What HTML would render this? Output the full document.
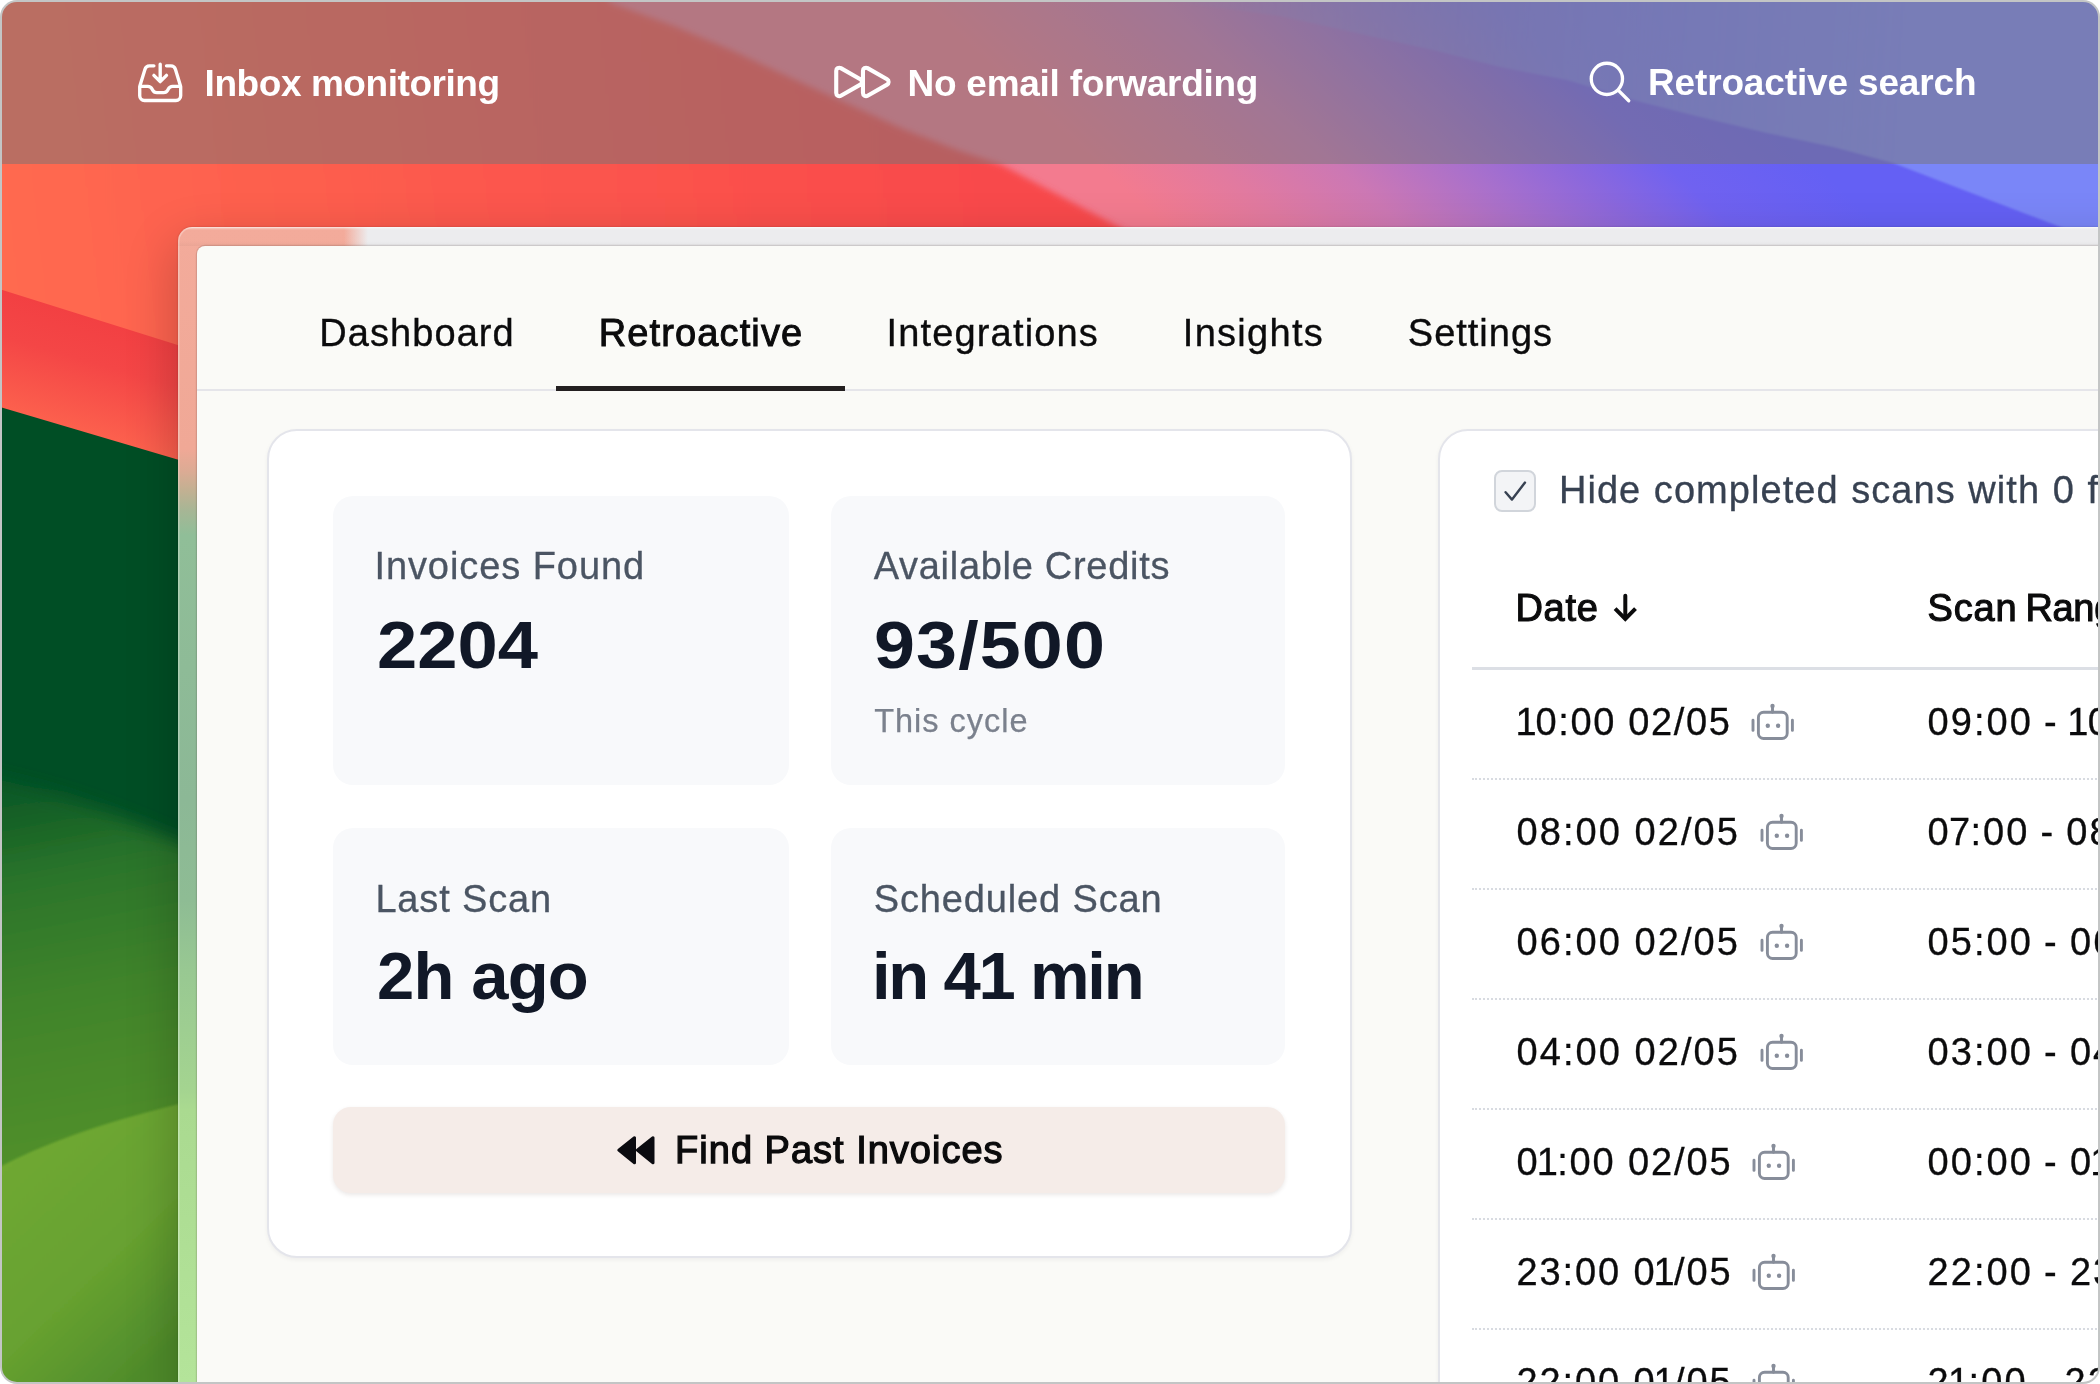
<!DOCTYPE html>
<html lang="en">
<head>
<meta charset="utf-8">
<title>Retroactive search</title>
<style>
*{box-sizing:border-box;margin:0;padding:0}
html,body{width:2100px;height:1384px;overflow:hidden;background:#fff}
body{font-family:"Liberation Sans",sans-serif;position:relative;color:#0b0b0c}
#shot{position:absolute;left:0;top:0;width:2100px;height:1384px;border-radius:17px;overflow:hidden;background:#c3c5c5}
#clip{position:absolute;left:2px;top:2px;width:2096px;height:1380px;border-radius:15px;overflow:hidden}
#stage{position:absolute;left:-2px;top:-2px;width:2100px;height:1384px;will-change:transform}
#bg{position:absolute;left:0;top:0;width:2100px;height:1384px;display:block}
/* banner */
#banner{position:absolute;left:0;top:0;width:2100px;height:163.6px;background:rgba(118,116,118,.5)}
.bitem{position:absolute;top:0;height:163px;color:#fff}
.bitem svg{position:absolute;overflow:visible}
.btxt{position:absolute;white-space:nowrap;line-height:1;font-weight:700;font-size:37px;color:#fff}
/* window */
#win{position:absolute;left:178.3px;top:226.9px;width:2000px;height:1300px;border-radius:14px 0 0 0;box-shadow:0 18px 50px 4px rgba(0,0,0,.20),0 0 2px rgba(0,0,0,.22)}
#winframe{position:absolute;inset:0;border-radius:14px 0 0 0;overflow:hidden;box-shadow:inset 1.5px 1px 0 rgba(255,255,255,.28);
 background:
  linear-gradient(180deg,rgba(255,255,255,.55) 0,rgba(255,255,255,.0) 3px,rgba(0,0,0,0) 14px,rgba(0,0,0,.035) 19.3px) 0 0/100% 19.3px no-repeat,
  linear-gradient(90deg,rgba(236,236,238,0) 0,rgba(236,236,238,0) 166px,#ececee 190px) 0 0/100% 19.3px no-repeat,
  linear-gradient(180deg,#f3ab9b 0,#f0a896 222px,#dcab94 244px,#c4b092 262px,#a6b695 284px,#90be98 308px,#8cb896 573px,#8ebc94 673px,#98c892 743px,#a4d490 863px,#aada90 883px,#b4e49a 1157px) 0 0/100% 100% no-repeat}
#app{position:absolute;left:18.5px;top:19.3px;width:1990px;height:1300px;border-radius:8px 0 0 0;background:#fafaf7;overflow:hidden;box-shadow:0 0 0 1.2px rgba(60,40,40,.15)}

/* tabs */
#tabs{position:absolute;left:0;top:0;width:1990px;height:145px;border-bottom:2.3px solid #e5e5ea}
.tab{position:absolute;top:0;height:145px;font-size:38px;color:#0b0b0c}
.tab span{position:absolute;white-space:nowrap;line-height:1;-webkit-text-stroke:.35px #0b0b0c}
.tab.on span{-webkit-text-stroke:.95px #0b0b0c}
.tab.on::after{content:"";position:absolute;left:0;right:0;bottom:0;height:5.3px;background:#231f20}
/* cards */
.card{position:absolute;background:#fff;border:2.3px solid #e4e5eb;border-radius:30px;box-shadow:0 2px 4px rgba(20,20,40,.05)}
.tile{position:absolute;background:#f8f9fb;border-radius:20px}
.lbl{position:absolute;white-space:nowrap;line-height:1;font-size:38px;color:#4b5563;-webkit-text-stroke:.3px #4b5563}
.val{position:absolute;white-space:nowrap;line-height:1;font-size:67px;transform-origin:0 50%;font-weight:700;color:#111827}
.sub{position:absolute;white-space:nowrap;line-height:1;font-size:32.5px;color:#7b818d;-webkit-text-stroke:.25px #7b818d}
#findbtn{position:absolute;background:#f5ece8;border-radius:18px;box-shadow:0 2px 4px rgba(60,30,20,.10)}
#findbtn span{position:absolute;white-space:nowrap;line-height:1;font-size:38px;color:#0b0b0c;-webkit-text-stroke:1.25px #0b0b0c}
#findbtn svg{position:absolute}
/* table card */
#chk{position:absolute;border:2px solid #d1d5db;background:#f3f4f6;border-radius:8px}
#chk svg{position:absolute;left:0;top:0}
#hide{position:absolute;white-space:nowrap;line-height:1;font-size:38px;color:#374151;-webkit-text-stroke:.3px #374151}
.th{position:absolute;white-space:nowrap;line-height:1;font-size:38px;color:#0b0b0c;-webkit-text-stroke:1.1px #0b0b0c}
#thline{position:absolute;height:2.3px;background:#dcdfe5}
.row{position:absolute;left:32.4px;width:900px;height:110px;border-bottom:2.3px dotted #d8dbe1}
.row span{position:absolute;top:33.4px;white-space:nowrap;line-height:1;font-size:38px;color:#0b0b0c;letter-spacing:2.06px;-webkit-text-stroke:.3px #0b0b0c}
.row .d{left:44.6px}
.row .g{left:455.6px;word-spacing:-1.5px}
.row .bot{position:absolute;left:100%;top:-1.35px;margin-left:18.6px}
i.k{font-style:normal;margin:0 -2.6px 0 -2.8px}
i.k7{font-style:normal;margin:0 -1.8px}
i.k0{font-style:normal;margin:0 -3px 0 -1px}
</style>
</head>
<body>
<div id="shot"><div id="clip"><div id="stage">

<!-- BACKGROUND -->
<svg id="bg" viewBox="0 0 2100 1384" width="2100" height="1384">
  <defs>
    <linearGradient id="gSky" gradientUnits="userSpaceOnUse" x1="1130" y1="195" x2="1463" y2="-163">
      <stop offset="0" stop-color="#f37b8f"/>
      <stop offset=".167" stop-color="#e17aa0"/>
      <stop offset=".333" stop-color="#cc78b4"/>
      <stop offset=".514" stop-color="#a870cc"/>
      <stop offset=".653" stop-color="#8c68dc"/>
      <stop offset=".792" stop-color="#7062f0"/>
      <stop offset="1" stop-color="#6460f4"/>
    </linearGradient>
    <linearGradient id="gWedge" gradientUnits="userSpaceOnUse" x1="1150" y1="60" x2="1900" y2="110">
      <stop offset="0" stop-color="#8e8ee0" stop-opacity="0"/>
      <stop offset=".2" stop-color="#8c8ce2" stop-opacity=".3"/>
      <stop offset=".42" stop-color="#8488ea" stop-opacity=".5"/>
      <stop offset=".6" stop-color="#7c86f6" stop-opacity=".7"/>
      <stop offset="1" stop-color="#7a86f8" stop-opacity="1"/>
    </linearGradient>
    <linearGradient id="gRed" gradientUnits="userSpaceOnUse" x1="0" y1="240" x2="1050" y2="120">
      <stop offset="0" stop-color="#ff6a50"/>
      <stop offset=".5" stop-color="#fc564d"/>
      <stop offset="1" stop-color="#f8484c"/>
    </linearGradient>
    <linearGradient id="gBand" gradientUnits="userSpaceOnUse" x1="60" y1="300" x2="20" y2="440">
      <stop offset="0" stop-color="#f23f42"/>
      <stop offset=".35" stop-color="#f44646"/>
      <stop offset="1" stop-color="#ff6a50"/>
    </linearGradient>
    <linearGradient id="gMid" gradientUnits="userSpaceOnUse" x1="40" y1="790" x2="110" y2="1160">
      <stop offset="0" stop-color="#0e5a27"/>
      <stop offset=".22" stop-color="#2a7429"/>
      <stop offset=".55" stop-color="#40842a"/>
      <stop offset="1" stop-color="#52902c"/>
    </linearGradient>
    <linearGradient id="gLow" gradientUnits="userSpaceOnUse" x1="20" y1="1150" x2="190" y2="1330">
      <stop offset="0" stop-color="#6fa832"/>
      <stop offset=".55" stop-color="#68a230"/>
      <stop offset="1" stop-color="#4f8c2c"/>
    </linearGradient>
    <filter id="fblur8" x="-10%" y="-10%" width="120%" height="120%"><feGaussianBlur stdDeviation="9"/></filter>
    <filter id="fblur3" x="-10%" y="-10%" width="120%" height="120%"><feGaussianBlur stdDeviation="3"/></filter>
    <filter id="fblur2" x="-10%" y="-10%" width="120%" height="120%"><feGaussianBlur stdDeviation="1.2"/></filter>
  </defs>
  <!-- sky: pink to violet to blue -->
  <rect width="2100" height="1384" fill="url(#gSky)"/>
  <!-- lighter blue wedge top right -->
  <path d="M1130 -10 L1130 -4 L1280 16 L1433 50 L1500 67 L1567 80 L1633 100 L1700 117 L1767 133 L1833 147 L1893 163 L2050 223 L2120 250 L2120 -10 Z" fill="url(#gWedge)" filter="url(#fblur2)"/>
  <!-- red / orange mass -->
  <path d="M-20 -20 L590 -20 L611 3 L674 26 L731 50 L789 77 L846 103 L903 129 L960 151 L1000 164 L1117 226 L1180 262 L1300 1400 L-20 1400 Z" fill="url(#gRed)" filter="url(#fblur3)"/>
  <!-- red band on the left -->
  <path d="M-10 286 L200 352 L260 500 L-10 460 Z" fill="url(#gBand)"/>
  <!-- dark green -->
  <path d="M-10 404 L260 484 L260 1400 L-10 1400 Z" fill="#004e25"/>
  <!-- mid green -->
  <path d="M-40 772 C60 790 130 815 300 900 L300 1440 L-40 1440 Z" fill="url(#gMid)" filter="url(#fblur8)"/>
  <!-- light green -->
  <path d="M-10 1172 C50 1140 110 1118 260 1085 L260 1400 L-10 1400 Z" fill="url(#gLow)" filter="url(#fblur2)"/>
</svg>

<!-- BANNER -->
<div id="banner"></div>
<div class="bitem" style="left:0;width:700px">
  <svg style="left:135px;top:58.2px" width="50.4" height="50.4" viewBox="0 0 24 24" fill="none" stroke="#fff" stroke-width="1.6" stroke-linecap="round" stroke-linejoin="round"><path d="M9 3.75H6.912a2.25 2.25 0 0 0-2.15 1.588L2.35 13.177a2.25 2.25 0 0 0-.1.661V18a2.25 2.25 0 0 0 2.25 2.25h15A2.25 2.25 0 0 0 21.75 18v-4.162c0-.224-.034-.447-.1-.661L19.24 5.338a2.25 2.25 0 0 0-2.15-1.588H15M2.25 13.5h3.86a2.25 2.25 0 0 1 2.012 1.244l.256.512a2.25 2.25 0 0 0 2.013 1.244h3.218a2.25 2.25 0 0 0 2.013-1.244l.256-.512a2.25 2.25 0 0 1 2.013-1.244h3.859M12 3v8.250m0 0-3-3m3 3 3-3"/></svg>
  <span class="btxt" id="b1" style="left:204.6px;top:64.7px;letter-spacing:-0.44px">Inbox monitoring</span>
</div>
<div class="bitem" style="left:700px;width:700px">
  <svg style="left:127.6px;top:47px" width="65.8" height="65.8" viewBox="0 0 24 24" fill="none" stroke="#fff" stroke-width="1.5" stroke-linecap="round" stroke-linejoin="round"><path d="M3 8.689c0-.864.933-1.406 1.683-.977l7.108 4.061a1.125 1.125 0 0 1 0 1.954l-7.108 4.061A1.125 1.125 0 0 1 3 16.811V8.69ZM12.75 8.689c0-.864.933-1.406 1.683-.977l7.108 4.061a1.125 1.125 0 0 1 0 1.954l-7.108 4.061a1.125 1.125 0 0 1-1.683-.977V8.69Z"/></svg>
  <span class="btxt" id="b2" style="left:207.5px;top:64.7px;letter-spacing:-0.26px">No email forwarding</span>
</div>
<div class="bitem" style="left:1400px;width:700px">
  <svg style="left:185.4px;top:57.4px" width="50" height="50" viewBox="0 0 24 24" fill="none" stroke="#fff" stroke-width="1.6" stroke-linecap="round" stroke-linejoin="round"><path d="m21 21-5.197-5.197m0 0A7.500 7.500 0 1 0 5.196 5.196a7.500 7.500 0 0 0 10.607 10.607Z"/></svg>
  <span class="btxt" id="b3" style="left:248.0px;top:64.4px;letter-spacing:-0.15px">Retroactive search</span>
</div>

<!-- WINDOW -->
<div id="win">
  <div id="winframe"></div>
  <div id="app">
    <div id="tabs">
      <div class="tab" style="left:80.7px;width:278px"><span id="t1" style="left:41.7px;top:67.6px;letter-spacing:1.08px">Dashboard</span></div>
      <div class="tab on" style="left:359px;width:289.7px"><span id="t2" style="left:43.0px;top:67.6px;letter-spacing:1.12px">Retroactive</span></div>
      <div class="tab" style="left:648.7px;width:296px"><span id="t3" style="left:41.0px;top:67.6px;letter-spacing:1.16px">Integrations</span></div>
      <div class="tab" style="left:944px;width:225px"><span id="t4" style="left:42.0px;top:67.6px;letter-spacing:1.29px">Insights</span></div>
      <div class="tab" style="left:1169px;width:230px"><span id="t5" style="left:42.0px;top:67.6px;letter-spacing:0.99px">Settings</span></div>
    </div>

    <!-- left card : abs (267.3,429.3)-(1351,1258) -->
    <div class="card" id="stats" style="left:70.3px;top:183.1px;width:1085px;height:829px">
      <div class="tile" style="left:64px;top:64.7px;width:456px;height:289.3px">
        <span class="lbl" id="l1" style="left:41.3px;top:51.4px;letter-spacing:0.93px">Invoices Found</span>
        <span class="val" id="v1" style="left:44.0px;top:115.0px;transform:scaleX(1.08)">2204</span>
      </div>
      <div class="tile" style="left:562.4px;top:64.7px;width:453.3px;height:289.3px">
        <span class="lbl" id="l2" style="left:42.2px;top:51.4px;letter-spacing:0.71px">Available Credits</span>
        <span class="val" id="v2" style="left:42.3px;top:115.0px;transform:scaleX(1.10);letter-spacing:1px">93/500</span>
        <span class="sub" id="s2" style="left:42.7px;top:209.1px;letter-spacing:1px">This cycle</span>
      </div>
      <div class="tile" style="left:64px;top:397px;width:456px;height:236.7px">
        <span class="lbl" id="l3" style="left:42.3px;top:51.5px;letter-spacing:0.85px">Last Scan</span>
        <span class="val" id="v3" style="left:44.0px;top:113.8px;letter-spacing:-0.86px">2h ago</span>
      </div>
      <div class="tile" style="left:562.4px;top:397px;width:453.3px;height:236.7px">
        <span class="lbl" id="l4" style="left:42.3px;top:51.5px;letter-spacing:0.85px">Scheduled Scan</span>
        <span class="val" id="v4" style="left:40.4px;top:113.8px;letter-spacing:-2.2px">in 41 min</span>
      </div>
      <div id="findbtn" style="left:64px;top:675.4px;width:951.7px;height:86px">
        <svg style="left:280px;top:22px" width="46" height="42" viewBox="0 0 46 42" fill="#0b0b10" stroke="#0b0b10" stroke-width="3" stroke-linejoin="round"><path d="M5.8 21.2 21.5 8.8V33.8ZM24.3 21.2 40 8.8V33.8Z"/></svg>
        <span id="fb" style="left:342.0px;top:24.7px;letter-spacing:1px">Find Past Invoices</span>
      </div>
    </div>

    <!-- right card : abs left 1438.3, top 429.3 -->
    <div class="card" id="scans" style="left:1240.8px;top:183.1px;width:900px;height:1200px">
      <div id="chk" style="left:54.4px;top:38.6px;width:42px;height:42.4px"><svg width="38" height="38" viewBox="0 0 38 38" fill="none" stroke="#374151" stroke-width="2.4" stroke-linecap="round" stroke-linejoin="round"><path d="M9.6 20.2 L16 27.6 L29 10.6"/></svg></div>
      <span id="hide" style="left:119.3px;top:39.4px;letter-spacing:1.05px;word-spacing:1px">Hide completed scans with 0 found invoices</span>
      <span class="th" id="h1" style="left:75.8px;top:157.8px;letter-spacing:0.77px">Date</span>
      <svg id="harr" style="position:absolute;left:168px;top:160px" width="36" height="36" viewBox="0 0 36 36" fill="none" stroke="#0b0b0c" stroke-width="4"><path d="M17.3 4.7V27.2" stroke-linecap="round"/><path d="M7.1 17.7 17.3 27.9 27.5 17.7" stroke-linejoin="miter"/></svg>
      <span class="th" id="h2" style="left:488.0px;top:157.8px;letter-spacing:0.8px">Scan <span style="position:static;letter-spacing:-.3px;margin-left:-3.4px">Range</span></span>
      <div id="thline" style="left:32.4px;top:236px;width:900px"></div>
      <div class="row" style="top:238.65px">
        <span class="d" id="r0a" style="letter-spacing:1.66px"><i class="k0">1</i>0:00 02/05<svg class="bot" width="46" height="40" viewBox="0 0 46 40" fill="none" stroke="#878d9a" stroke-width="2.9" stroke-linecap="round" stroke-linejoin="round"><rect x="8.4" y="10.3" width="28.8" height="26.2" rx="5.2"/><path d="M22.5 4.5V10.3M3 18.3V28.4M42.4 18.3V28.4"/><circle cx="22.5" cy="4" r="2.2" fill="#878d9a" stroke="none"/><circle cx="17.8" cy="23.7" r="2.2" fill="#878d9a" stroke="none"/><circle cx="28.1" cy="23.7" r="2.2" fill="#878d9a" stroke="none"/></svg></span>
        <span class="g" id="r0b">09:00 - <i class="k">1</i>0:00</span>
      </div>
      <div class="row" style="top:348.65px">
        <span class="d" id="r1a">08:00 02/05<svg class="bot" width="46" height="40" viewBox="0 0 46 40" fill="none" stroke="#878d9a" stroke-width="2.9" stroke-linecap="round" stroke-linejoin="round"><rect x="8.4" y="10.3" width="28.8" height="26.2" rx="5.2"/><path d="M22.5 4.5V10.3M3 18.3V28.4M42.4 18.3V28.4"/><circle cx="22.5" cy="4" r="2.2" fill="#878d9a" stroke="none"/><circle cx="17.8" cy="23.7" r="2.2" fill="#878d9a" stroke="none"/><circle cx="28.1" cy="23.7" r="2.2" fill="#878d9a" stroke="none"/></svg></span>
        <span class="g" id="r1b">0<i class="k7">7</i>:00 - 08:00</span>
      </div>
      <div class="row" style="top:458.65px">
        <span class="d" id="r2a">06:00 02/05<svg class="bot" width="46" height="40" viewBox="0 0 46 40" fill="none" stroke="#878d9a" stroke-width="2.9" stroke-linecap="round" stroke-linejoin="round"><rect x="8.4" y="10.3" width="28.8" height="26.2" rx="5.2"/><path d="M22.5 4.5V10.3M3 18.3V28.4M42.4 18.3V28.4"/><circle cx="22.5" cy="4" r="2.2" fill="#878d9a" stroke="none"/><circle cx="17.8" cy="23.7" r="2.2" fill="#878d9a" stroke="none"/><circle cx="28.1" cy="23.7" r="2.2" fill="#878d9a" stroke="none"/></svg></span>
        <span class="g" id="r2b">05:00 - 06:00</span>
      </div>
      <div class="row" style="top:568.65px">
        <span class="d" id="r3a">04:00 02/05<svg class="bot" width="46" height="40" viewBox="0 0 46 40" fill="none" stroke="#878d9a" stroke-width="2.9" stroke-linecap="round" stroke-linejoin="round"><rect x="8.4" y="10.3" width="28.8" height="26.2" rx="5.2"/><path d="M22.5 4.5V10.3M3 18.3V28.4M42.4 18.3V28.4"/><circle cx="22.5" cy="4" r="2.2" fill="#878d9a" stroke="none"/><circle cx="17.8" cy="23.7" r="2.2" fill="#878d9a" stroke="none"/><circle cx="28.1" cy="23.7" r="2.2" fill="#878d9a" stroke="none"/></svg></span>
        <span class="g" id="r3b">03:00 - 04:00</span>
      </div>
      <div class="row" style="top:678.65px">
        <span class="d" id="r4a" style="letter-spacing:1.86px">0<i class="k">1</i>:00 02/05<svg class="bot" width="46" height="40" viewBox="0 0 46 40" fill="none" stroke="#878d9a" stroke-width="2.9" stroke-linecap="round" stroke-linejoin="round"><rect x="8.4" y="10.3" width="28.8" height="26.2" rx="5.2"/><path d="M22.5 4.5V10.3M3 18.3V28.4M42.4 18.3V28.4"/><circle cx="22.5" cy="4" r="2.2" fill="#878d9a" stroke="none"/><circle cx="17.8" cy="23.7" r="2.2" fill="#878d9a" stroke="none"/><circle cx="28.1" cy="23.7" r="2.2" fill="#878d9a" stroke="none"/></svg></span>
        <span class="g" id="r4b">00:00 - 0<i class="k">1</i>:00</span>
      </div>
      <div class="row" style="top:788.65px">
        <span class="d" id="r5a" style="letter-spacing:1.86px">23:00 0<i class="k">1</i>/05<svg class="bot" width="46" height="40" viewBox="0 0 46 40" fill="none" stroke="#878d9a" stroke-width="2.9" stroke-linecap="round" stroke-linejoin="round"><rect x="8.4" y="10.3" width="28.8" height="26.2" rx="5.2"/><path d="M22.5 4.5V10.3M3 18.3V28.4M42.4 18.3V28.4"/><circle cx="22.5" cy="4" r="2.2" fill="#878d9a" stroke="none"/><circle cx="17.8" cy="23.7" r="2.2" fill="#878d9a" stroke="none"/><circle cx="28.1" cy="23.7" r="2.2" fill="#878d9a" stroke="none"/></svg></span>
        <span class="g" id="r5b">22:00 - 23:00</span>
      </div>
      <div class="row" style="top:898.65px">
        <span class="d" id="r6a" style="letter-spacing:1.86px">22:00 0<i class="k">1</i>/05<svg class="bot" width="46" height="40" viewBox="0 0 46 40" fill="none" stroke="#878d9a" stroke-width="2.9" stroke-linecap="round" stroke-linejoin="round"><rect x="8.4" y="10.3" width="28.8" height="26.2" rx="5.2"/><path d="M22.5 4.5V10.3M3 18.3V28.4M42.4 18.3V28.4"/><circle cx="22.5" cy="4" r="2.2" fill="#878d9a" stroke="none"/><circle cx="17.8" cy="23.7" r="2.2" fill="#878d9a" stroke="none"/><circle cx="28.1" cy="23.7" r="2.2" fill="#878d9a" stroke="none"/></svg></span>
        <span class="g" id="r6b">2<i class="k">1</i>:00 - 22:00</span>
      </div>
    </div>
  </div>
</div>

</div></div></div>
</body>
</html>
